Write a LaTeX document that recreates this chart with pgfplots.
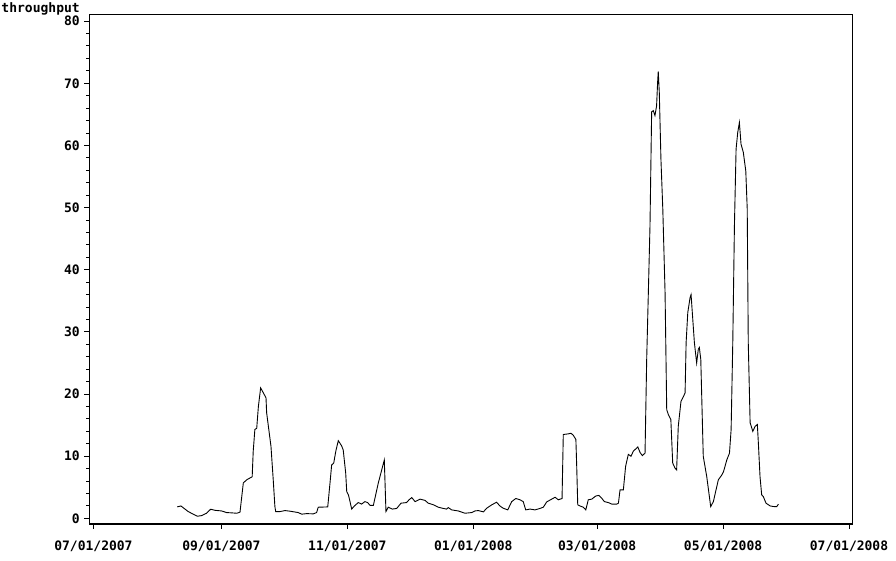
\documentclass[border=0pt]{standalone}
\usepackage{fontspec}
\setmainfont{DejaVu Sans Mono}
\usepackage{pgfplots}
\pgfplotsset{compat=1.18}
\usepackage{pgfplotstable}

% day counted from 07/01/2007, throughput
\pgfplotstableread{
day value
40.6 1.85
42.4 2.0
45.9 1.1
50.3 0.35
52.4 0.45
54.8 0.83
56.8 1.48
58.9 1.3
62.1 1.2
64.5 0.94
67.0 0.89
69.4 0.83
71.0 1.0
72.6 5.7
74.2 6.2
76.9 6.7
77.4 10.8
78.2 14.3
79.1 14.5
79.9 18.0
81.0 21.0
82.3 20.2
83.6 19.4
83.9 17.0
86.0 11.6
87.1 6.2
87.9 1.9
88.3 1.1
90.4 1.1
92.8 1.26
95.2 1.16
99.2 0.94
100.9 0.68
103.3 0.77
106.5 0.73
108.1 0.94
108.9 1.8
113.5 1.85
114.6 5.7
115.4 8.6
116.4 8.9
117.4 10.8
118.6 12.5
120.2 11.7
121.0 11.0
122.2 7.3
122.7 4.3
123.5 3.8
124.3 2.7
125.1 1.5
126.4 2.0
128.3 2.55
129.9 2.3
131.5 2.7
132.8 2.55
134.0 2.1
135.6 2.1
138.0 5.7
140.9 9.4
141.7 1.1
142.8 1.8
144.8 1.5
146.9 1.6
149.0 2.45
151.7 2.55
152.9 3.0
154.2 3.35
155.8 2.7
158.2 3.1
160.6 2.9
162.2 2.45
164.6 2.2
167.1 1.8
169.5 1.6
171.1 1.5
171.9 1.74
173.5 1.37
176.7 1.2
180.0 0.83
183.2 0.94
184.8 1.2
186.4 1.26
188.9 1.05
190.5 1.64
192.9 2.18
195.3 2.6
196.9 2.0
198.5 1.64
200.7 1.37
202.6 2.7
204.6 3.2
206.6 3.0
208.2 2.7
209.4 1.37
211.5 1.5
213.9 1.37
216.3 1.6
217.9 1.8
219.6 2.66
222.0 3.1
223.6 3.4
225.2 3.0
227.0 3.2
227.6 13.5
230.0 13.6
231.3 13.7
232.4 13.4
233.7 12.7
234.1 8.4
234.6 2.18
235.7 2.0
237.3 1.8
238.5 1.37
239.7 3.0
241.4 3.1
243.3 3.6
244.9 3.7
246.2 3.26
247.5 2.7
249.4 2.55
251.1 2.3
253.5 2.3
254.3 2.45
255.1 4.6
256.7 4.6
257.8 8.4
259.1 10.3
260.4 10.0
261.5 10.8
263.7 11.5
264.8 10.6
265.9 10.1
267.2 10.5
268.0 25.6
268.8 36.3
269.6 47.1
270.4 65.4
271.2 65.6
272.0 64.8
272.8 66.4
273.3 70.2
273.6 71.9
274.1 68.6
274.9 57.8
275.8 49.8
276.9 36.3
277.7 17.5
278.5 16.7
279.7 15.9
280.6 8.9
281.7 8.1
282.5 7.8
283.3 14.8
284.6 18.8
285.8 19.6
286.6 20.2
287.1 28.3
287.9 33.1
289.0 35.5
289.5 36.0
290.1 33.1
291.1 28.3
292.2 25.0
293.0 27.2
293.5 27.5
294.2 25.6
295.4 10.0
297.1 6.7
299.0 1.9
300.3 2.7
301.6 4.6
302.7 6.2
304.4 7.0
305.2 7.5
306.8 9.4
308.1 10.5
308.9 14.3
309.7 28.3
310.5 47.1
311.3 59.4
312.1 62.1
312.9 63.7
313.7 60.2
314.8 58.9
316.0 55.9
316.7 49.8
317.2 28.3
318.1 15.4
319.4 14.0
320.5 14.8
321.6 15.1
322.1 12.1
322.9 6.7
323.7 3.8
324.5 3.5
325.8 2.45
327.8 2.0
329.7 1.9
331.0 1.9
331.8 2.3
}\throughput

\begin{document}
\begin{tikzpicture}
    \useasboundingbox (-89.3pt,-37pt) rectangle (806.7pt,524pt);
    \begin{axis}[scale only axis, width=763pt, height=509.7pt,
                 xmin=-2, xmax=367.6, ymin=-0.9, ymax=81.1,
                 xtick={0,62,123,184,244,305,366},
                 xticklabels={07/01/2007,09/01/2007,11/01/2007,01/01/2008,03/01/2008,05/01/2008,07/01/2008},
                 ytick={0,10,...,80},
                 minor x tick num=3, minor y tick num=4,
                 xtick pos=bottom, ytick pos=left,
                 tick align=outside,
                 major tick length=5pt, minor tick length=3pt,
                 axis line style={line width=1.1pt},
                 tick style={line width=1pt, black},
                 tick label style={font=\fontsize{13pt}{15pt}\selectfont\bfseries},
                 /pgf/number format/assume math mode=true,
                 xticklabel style={yshift=-8pt},
                 yticklabel style={xshift=-1pt},
                 ylabel={throughput},
                 every axis y label/.style={at={(rel axis cs:0,1)}, anchor=base east,
                     xshift=-6pt, yshift=1.3pt,
                     font=\fontsize{13pt}{15pt}\selectfont\bfseries}]
        \addplot[black, line width=0.9pt, mark=none] table[x=day, y=value] {\throughput};
    \end{axis}
\end{tikzpicture}
\end{document}
